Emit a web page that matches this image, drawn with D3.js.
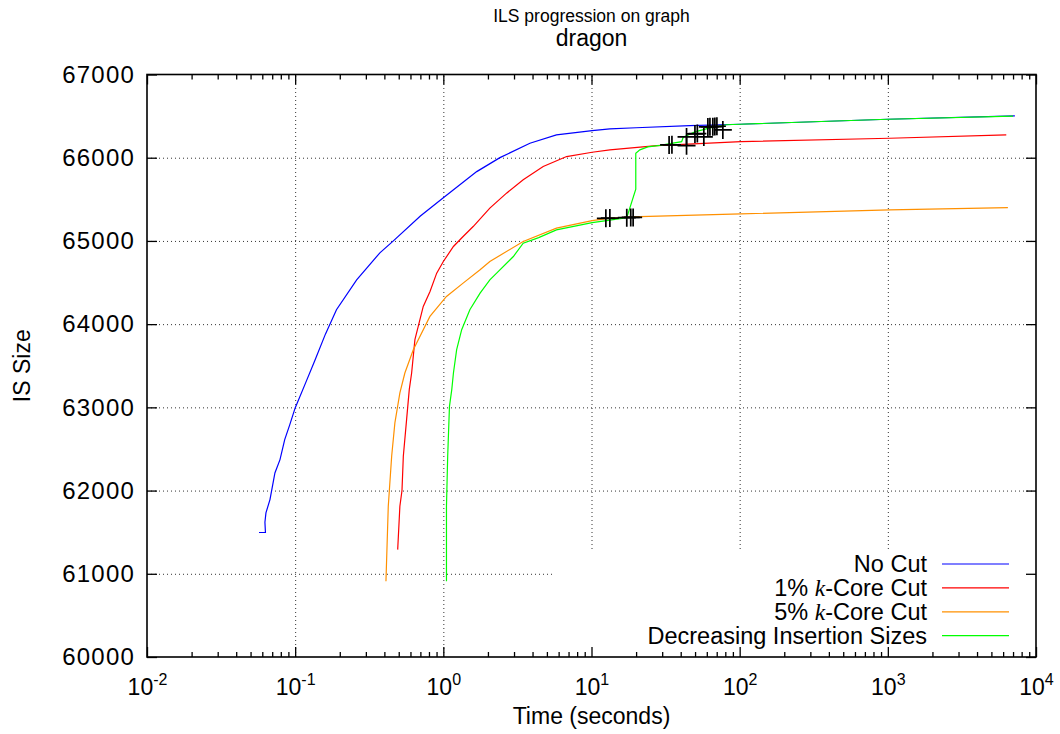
<!DOCTYPE html>
<html>
<head>
<meta charset="utf-8">
<script src="https://cdn.jsdelivr.net/npm/d3@7"></script>
<style>
  body { margin: 0; background: #fff; }
  text { font-family: "Liberation Sans", Arial, Helvetica, sans-serif; fill: #000; }
</style>
</head>
<body>
<div id="chart"></div>
<script>
// data (time in seconds, IS size)
var noCutTimes = [0.057, 0.063, 0.0625, 0.0635, 0.0676, 0.073, 0.079, 0.085, 0.092, 0.1, 0.118, 0.136, 0.16, 0.19, 0.26, 0.373, 0.46, 0.7, 1.01, 1.68, 2.41, 3.84, 5.8, 10.1, 13.3, 20, 46, 100, 1000, 7200];
var noCutSizes = [61496, 61496, 61620, 61732, 61892, 62212, 62372, 62612, 62792, 62993, 63300, 63567, 63880, 64173, 64533, 64857, 65001, 65300, 65526, 65833, 66001, 66174, 66274, 66325, 66346, 66360, 66385, 66402, 66462, 66502];

var cut1Times = [0.492, 0.509, 0.526, 0.537, 0.565, 0.589, 0.611, 0.643, 0.677, 0.732, 0.813, 0.902, 1.0, 1.17, 1.36, 1.59, 2.06, 2.67, 3.46, 4.72, 6.79, 10.1, 13.3, 27.5, 102, 1030, 6300];
var cut1Sizes = [61290, 61812, 62000, 62412, 62852, 63213, 63413, 63813, 63973, 64213, 64393, 64613, 64753, 64933, 65053, 65173, 65394, 65574, 65734, 65894, 66014, 66066, 66094, 66145, 66193, 66234, 66274];

var cut5Times = [0.41, 0.425, 0.448, 0.471, 0.509, 0.55, 0.627, 0.812, 1.05, 1.36, 1.77, 2.06, 3.46, 5.8, 10.1, 13.3, 21.2, 102, 1030, 6460];
var cut5Sizes = [60911, 61812, 62412, 62813, 63173, 63413, 63693, 64093, 64333, 64493, 64653, 64753, 64993, 65153, 65245, 65274, 65293, 65325, 65373, 65401];

var decTimes = [1.05, 1.05, 1.07, 1.1, 1.14, 1.17, 1.23, 1.33, 1.51, 1.77, 2.06, 2.29, 2.97, 3.46, 4.4, 5.8, 10.1, 12.6, 17.3, 19.9, 19.9, 21.2, 24, 29, 40.6, 41.6, 49.9, 63, 81.7, 100, 1000, 7000];
var decSizes = [60911, 61812, 62412, 63012, 63213, 63413, 63693, 63933, 64173, 64373, 64533, 64613, 64813, 64973, 65040, 65133, 65221, 65245, 65280, 65622, 66054, 66094, 66130, 66148, 66193, 66246, 66310, 66358, 66396, 66402, 66462, 66500];

// black "+" marks on the decreasing insertion curve
var markTimes = [12.5, 13.3, 17.3, 18.4, 19.1, 33.4, 34.9, 43.8, 43.8, 49.9, 51.8, 57.3, 61.0, 63.0, 65.9, 68.0, 70.2, 77.0];
var markSizes = [65272, 65275, 65280, 65282, 65282, 66154, 66156, 66145, 66250, 66286, 66290, 66250, 66370, 66372, 66372, 66375, 66378, 66334];

var seriesNames = ["No Cut", "1% k-Core Cut", "5% k-Core Cut", "Decreasing Insertion Sizes"];
var seriesColors = ["#0000ff", "#ff0000", "#ff9000", "#00ff00"];

var xTicks = [0.01, 0.1, 1, 10, 100, 1000, 10000];
var yTicks = [60000, 61000, 62000, 63000, 64000, 65000, 66000, 67000];

var svgWidth = 1060;
var svgHeight = 734;

var margin = {
  top: 74.5,
  right: 24,
  bottom: 77,
  left: 147
};

var width = svgWidth - margin.left - margin.right;
var height = svgHeight - margin.top - margin.bottom;

var svg = d3.select("#chart")
  .append("svg")
  .attr("width", svgWidth)
  .attr("height", svgHeight);

var chartGroup = svg.append("g")
  .attr("transform", `translate(${margin.left}, ${margin.top})`);

var xScale = d3.scaleLog()
  .domain([0.01, 10000])
  .range([0, width]);

var yScale = d3.scaleLinear()
  .domain([60000, 67000])
  .range([height, 0]);

// minor tick values 2..9 in every decade
var minorTicks = [];
xTicks.slice(0, -1).forEach(function(d) {
  for (var k = 2; k <= 9; k++) minorTicks.push(d * k);
});

// grid (dotted), only interior lines
var gridX = chartGroup.append("g")
  .attr("class", "grid")
  .attr("transform", `translate(0, ${height})`)
  .call(d3.axisBottom(xScale).tickValues(xTicks.slice(1, -1)).tickSize(-height).tickFormat(""));

var gridY = chartGroup.append("g")
  .attr("class", "grid")
  .call(d3.axisLeft(yScale).tickValues(yTicks.slice(1, -1)).tickSize(-width).tickFormat(""));

chartGroup.selectAll(".grid .domain").remove();
chartGroup.selectAll(".grid line")
  .attr("stroke", "#333")
  .attr("stroke-width", 1)
  .attr("stroke-dasharray", "1,3");

// key area is opaque and hides the grid
var keyBox = chartGroup.append("rect")
  .attr("x", 552 - margin.left)
  .attr("y", 552 - margin.top)
  .attr("width", width - (552 - margin.left))
  .attr("height", height - (552 - margin.top))
  .attr("fill", "#fff");

// curves
var line = d3.line()
  .x(d => xScale(d[0]))
  .y(d => yScale(d[1]));

var curves = [
  d3.zip(noCutTimes, noCutSizes),
  d3.zip(cut1Times, cut1Sizes),
  d3.zip(cut5Times, cut5Sizes),
  d3.zip(decTimes, decSizes)
];

curves.forEach(function(pts, i) {
  chartGroup.append("path")
    .datum(pts)
    .attr("fill", "none")
    .attr("stroke", seriesColors[i])
    .attr("stroke-width", 1.2)
    .attr("d", line);
});

// plus marks
var marks = d3.zip(markTimes, markSizes);
chartGroup.selectAll(".mark")
  .data(marks)
  .enter()
  .append("path")
  .attr("class", "mark")
  .attr("d", d => {
    var x = xScale(d[0]), y = yScale(d[1]), s = 9;
    return `M${x - s},${y}H${x + s}M${x},${y - s}V${y + s}`;
  })
  .attr("stroke", "#000")
  .attr("stroke-width", 1.7)
  .attr("fill", "none");

// axes: ticks point inward
var bottomAxis = chartGroup.append("g")
  .attr("transform", `translate(0, ${height})`)
  .call(d3.axisBottom(xScale).tickValues(xTicks).tickSizeInner(-10).tickSizeOuter(0).tickFormat(""));
chartGroup.append("g")
  .attr("transform", `translate(0, ${height})`)
  .call(d3.axisBottom(xScale).tickValues(minorTicks).tickSizeInner(-5).tickSizeOuter(0).tickFormat(""));
chartGroup.append("g")
  .call(d3.axisTop(xScale).tickValues(xTicks).tickSizeInner(-10).tickSizeOuter(0).tickFormat(""));
chartGroup.append("g")
  .call(d3.axisTop(xScale).tickValues(minorTicks).tickSizeInner(-5).tickSizeOuter(0).tickFormat(""));

var leftAxis = chartGroup.append("g")
  .call(d3.axisLeft(yScale).tickValues(yTicks).tickSizeInner(-10).tickSizeOuter(0).tickPadding(12).tickFormat(d3.format("d")));
chartGroup.append("g")
  .attr("transform", `translate(${width}, 0)`)
  .call(d3.axisRight(yScale).tickValues(yTicks).tickSizeInner(-10).tickSizeOuter(0).tickFormat(""));

chartGroup.selectAll(".domain").remove();
chartGroup.selectAll(".tick line").filter(function() { return !this.closest(".grid"); })
  .attr("stroke", "#000")
  .attr("stroke-width", 1.3);

leftAxis.selectAll("text")
  .style("font-size", "24px")
  .style("letter-spacing", "1.2px")
  .attr("fill", "#000");

// x tick labels as 10 with superscript exponent
bottomAxis.selectAll(".tick")
  .append("text")
  .attr("y", 38)
  .attr("text-anchor", "middle")
  .style("font-size", "23px")
  .each(function(d) {
    var t = d3.select(this);
    t.append("tspan").text("10");
    t.append("tspan")
      .attr("dy", -10)
      .style("font-size", "16px")
      .text(Math.round(Math.log10(d)));
  });

// border
chartGroup.append("rect")
  .attr("width", width)
  .attr("height", height)
  .attr("fill", "none")
  .attr("stroke", "#000")
  .attr("stroke-width", 1.6);

// key
var key = svg.append("g");
seriesNames.forEach(function(name, i) {
  var cy = 564 + i * 23.9;
  var label = key.append("text")
    .attr("x", 927)
    .attr("y", cy + 8)
    .attr("text-anchor", "end")
    .style("font-size", "23.5px");
  if (name.indexOf("k-Core") >= 0) {
    var parts = name.split("k");
    label.append("tspan").text(parts[0]);
    label.append("tspan")
      .style("font-family", "'Liberation Serif', 'DejaVu Serif', serif")
      .style("font-style", "italic")
      .text("k");
    label.append("tspan").text(parts[1]);
  } else {
    label.text(name);
  }
  key.append("line")
    .attr("x1", 942)
    .attr("x2", 1009)
    .attr("y1", cy)
    .attr("y2", cy)
    .attr("stroke", seriesColors[i])
    .attr("stroke-width", 1.2);
});

// titles and axis labels
svg.append("text")
  .attr("x", margin.left + width / 2)
  .attr("y", 22)
  .attr("text-anchor", "middle")
  .style("font-size", "17.5px")
  .text("ILS progression on graph");

svg.append("text")
  .attr("x", margin.left + width / 2)
  .attr("y", 46)
  .attr("text-anchor", "middle")
  .style("font-size", "23px")
  .text("dragon");

svg.append("text")
  .attr("x", margin.left + width / 2)
  .attr("y", 724)
  .attr("text-anchor", "middle")
  .style("font-size", "23px")
  .text("Time (seconds)");

svg.append("text")
  .attr("transform", `translate(30, ${margin.top + height / 2}) rotate(-90)`)
  .attr("text-anchor", "middle")
  .style("font-size", "23px")
  .text("IS Size");
</script>
</body>
</html>
